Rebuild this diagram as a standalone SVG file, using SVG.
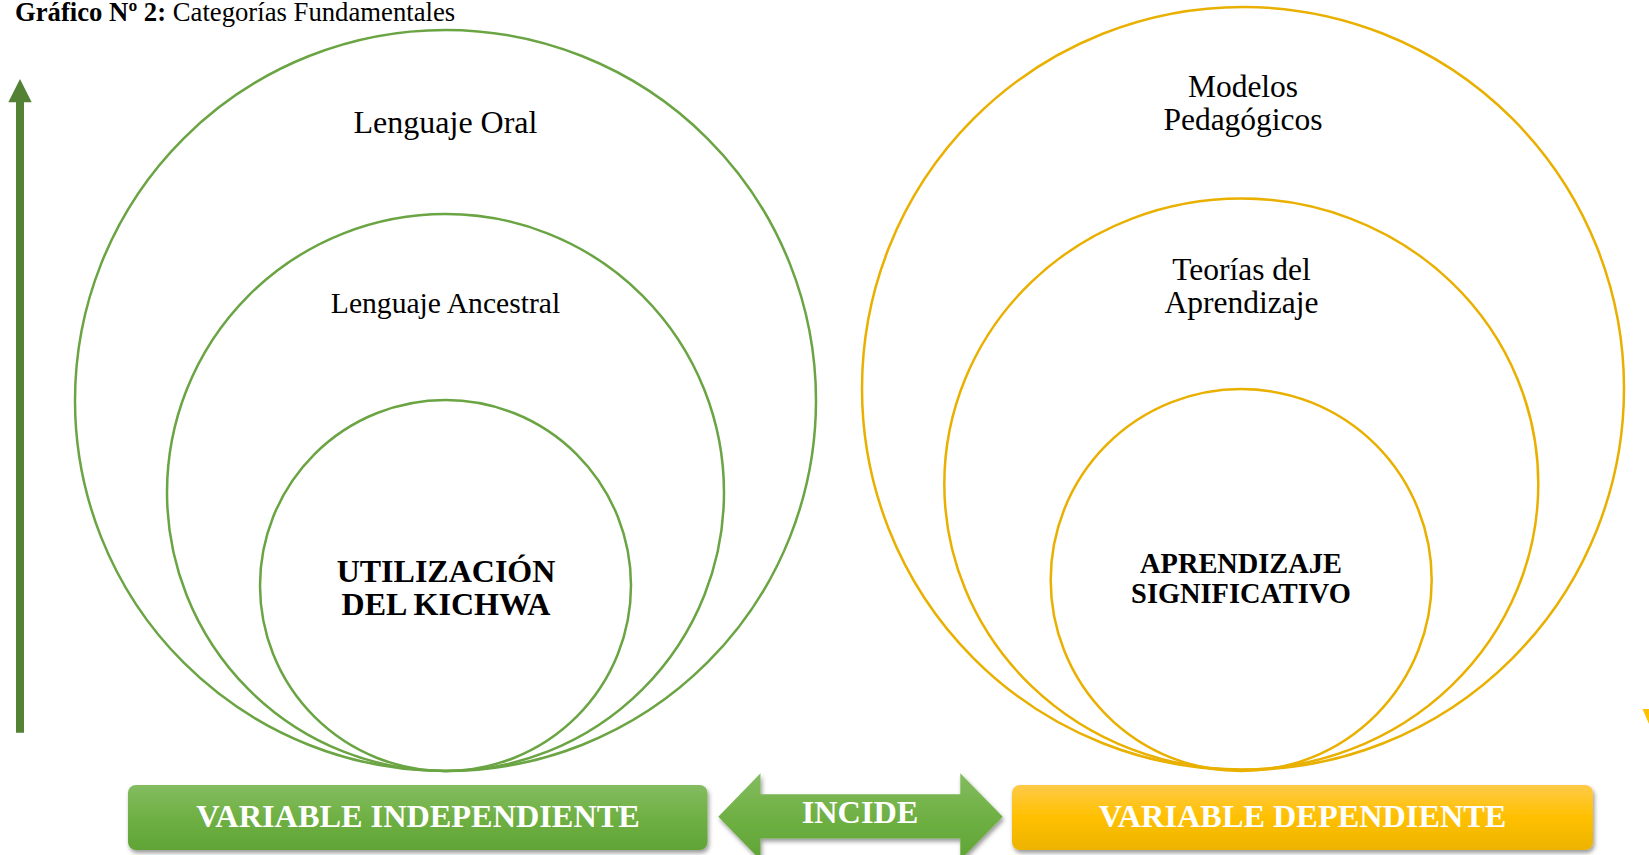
<svg xmlns="http://www.w3.org/2000/svg" width="1649" height="855" viewBox="0 0 1649 855">
  <defs>
    <linearGradient id="gGreen" x1="0" y1="0" x2="0" y2="1">
      <stop offset="0" stop-color="#84bc60"/>
      <stop offset="0.5" stop-color="#6fb044"/>
      <stop offset="1" stop-color="#60a435"/>
    </linearGradient>
    <linearGradient id="gYellow" x1="0" y1="0" x2="0" y2="1">
      <stop offset="0" stop-color="#ffca48"/>
      <stop offset="0.5" stop-color="#ffc000"/>
      <stop offset="1" stop-color="#ecb300"/>
    </linearGradient>
    <filter id="shadow" x="-5%" y="-20%" width="110%" height="150%">
      <feDropShadow dx="1.5" dy="3" stdDeviation="2" flood-color="#000" flood-opacity="0.4"/>
    </filter>
  </defs>
  <style>
    .serif { font-family: "Liberation Serif", "Times New Roman", serif; }
    .lbl { font-family: "Liberation Serif", "Times New Roman", serif; font-size: 32px; fill: #000; text-anchor: middle; }
    .lbl2 { font-size: 31.5px; }
    .anc { font-size: 29.6px; }
    .core { font-family: "Liberation Serif", "Times New Roman", serif; font-weight: bold; fill: #000; text-anchor: middle; }
    .bar { font-family: "Liberation Serif", "Times New Roman", serif; font-weight: bold; font-size: 32.3px; fill: #fff; text-anchor: middle; }
    .gc { fill: none; stroke: #6aa443; stroke-width: 2.5; }
    .yc { fill: none; stroke: #e9b000; stroke-width: 2.5; }
  </style>
  <rect width="1649" height="855" fill="#fff"/>

  <g id="title">
    <text class="serif" x="15" y="20.5" font-size="26.7" fill="#000"><tspan font-weight="bold">Gráfico Nº 2:</tspan> Categorías Fundamentales</text>
  </g>

  <g id="left-axis-arrow">
    <polygon points="20,79 31.7,102.3 24,102.3 24,732.7 16,732.7 16,102.3 8.3,102.3" fill="#548235"/>
  </g>

  <g id="lenguaje-oral">
    <circle class="gc" cx="445.5" cy="400.5" r="370.5"/>
    <text class="lbl" x="445.5" y="133">Lenguaje Oral</text>
  </g>
  <g id="lenguaje-ancestral">
    <circle class="gc" cx="445.5" cy="492.5" r="278.5"/>
    <text class="lbl anc" x="445.5" y="313">Lenguaje Ancestral</text>
  </g>
  <g id="utilizacion-kichwa">
    <circle class="gc" cx="445.5" cy="585.5" r="185.5"/>
    <text class="core" x="446" y="581.5" font-size="32">UTILIZACIÓN</text>
    <text class="core" x="446" y="614.5" font-size="32">DEL KICHWA</text>
  </g>

  <g id="modelos-pedagogicos">
    <ellipse class="yc" cx="1243" cy="388.5" rx="381" ry="381.5"/>
    <text class="lbl lbl2" x="1243" y="96.7">Modelos</text>
    <text class="lbl lbl2" x="1243" y="129.5">Pedagógicos</text>
  </g>
  <g id="teorias-aprendizaje">
    <ellipse class="yc" cx="1241.3" cy="484" rx="297" ry="285.5"/>
    <text class="lbl lbl2" x="1241.5" y="280">Teorías del</text>
    <text class="lbl lbl2" x="1241.5" y="313">Aprendizaje</text>
  </g>
  <g id="aprendizaje-significativo">
    <ellipse class="yc" cx="1241.2" cy="580" rx="190.5" ry="191"/>
    <text class="core" x="1241" y="573.3" font-size="28.4">APRENDIZAJE</text>
    <text class="core" x="1241" y="602.7" font-size="28.4">SIGNIFICATIVO</text>
  </g>

  <g id="right-edge-arrow">
    <polygon points="1642.5,709 1662,709 1652,731" fill="#ffc000"/>
  </g>

  <g id="variable-independiente">
    <rect x="128" y="785" width="579.5" height="65" rx="8" fill="url(#gGreen)" filter="url(#shadow)"/>
    <text class="bar" x="418" y="827">VARIABLE INDEPENDIENTE</text>
  </g>

  <g id="connectors">
    <g id="incide">
      <polygon points="718.3,816.7 760.5,773.3 760.5,794.3 960.3,794.3 960.3,773.3 1002.7,816.7 960.3,860 960.3,838.5 760.5,838.5 760.5,860" fill="url(#gGreen)" filter="url(#shadow)"/>
      <text class="bar" x="860" y="823">INCIDE</text>
    </g>
  </g>

  <g id="variable-dependiente">
    <rect x="1012" y="785" width="581" height="65" rx="8" fill="url(#gYellow)" filter="url(#shadow)"/>
    <text class="bar" x="1302.5" y="827">VARIABLE DEPENDIENTE</text>
  </g>
</svg>
